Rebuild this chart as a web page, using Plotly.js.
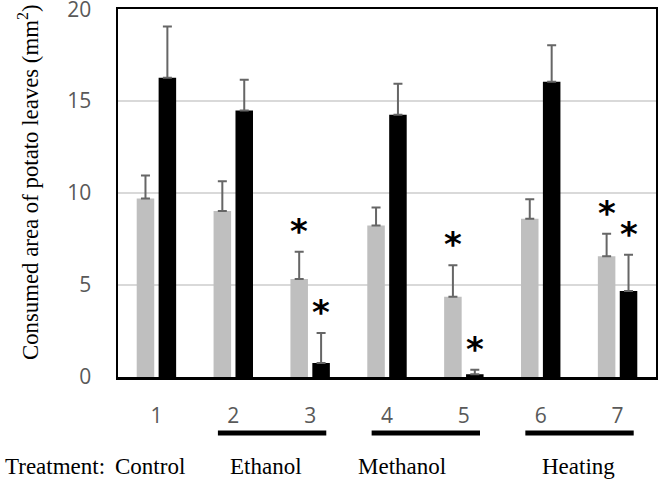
<!DOCTYPE html>
<html>
<head>
<meta charset="utf-8">
<script src="https://cdn.plot.ly/plotly-3.0.1.min.js"></script>
<style>html,body{margin:0;padding:0;background:#fff;}#chart{width:658px;height:479px;}</style>
</head>
<body>
<div id="chart"></div>
<script>
// ---- data ----
var categories = ['1', '2', '3', '4', '5', '6', '7'];
var grayValues = [9.70, 9.02, 5.33, 8.24, 4.37, 8.61, 6.56];
var grayErrors = [1.26, 1.62, 1.48, 0.97, 1.70, 1.06, 1.23];
var blackValues = [16.27, 14.49, 0.76, 14.26, 0.15, 16.05, 4.67];
var blackErrors = [2.79, 1.67, 1.63, 1.69, 0.25, 1.99, 1.98];
var graySignificant = [false, false, true, false, true, false, true];
var blackSignificant = [false, false, true, false, true, false, true];
var treatmentLabels = ['Control', 'Ethanol', 'Methanol', 'Heating'];
var treatmentFrom = [0, 1, 3, 5];   // first category index of each treatment
var treatmentTo = [0, 2, 4, 6];     // last category index of each treatment
var treatmentLabelPos = [-0.08, 1.43, 3.19, 5.49];
var yTickValues = [0, 5, 10, 15, 20];
var yTitle = 'Consumed area of potato leaves (mm<sup>2</sup>)';

// ---- traces ----
var errStyle = {type: 'data', symmetric: false, color: '#666666', thickness: 2, width: 4.5};
var traces = [
  {type: 'bar', x: categories, y: grayValues, name: 'gray',
   marker: {color: '#bfbfbf'},
   error_y: Object.assign({array: grayErrors, arrayminus: grayValues.map(function(){return 0;})}, errStyle)},
  {type: 'bar', x: categories, y: blackValues, name: 'black',
   marker: {color: '#000000'},
   error_y: Object.assign({array: blackErrors, arrayminus: blackValues.map(function(){return 0;})}, errStyle)}
];

// ---- annotations ----
var annotations = [];
var barShift = 11;
function addStars(values, errors, flags, shift) {
  for (var i = 0; i < categories.length; i++) {
    if (!flags[i]) continue;
    annotations.push({x: i, y: values[i] + errors[i], xref: 'x', yref: 'y',
      text: '*', showarrow: false, xshift: shift, yshift: 21, yanchor: 'middle',
      font: {family: 'DejaVu Sans', size: 34, weight: 'bold', color: '#000'}});
  }
}
addStars(grayValues, grayErrors, graySignificant, -barShift);
addStars(blackValues, blackErrors, blackSignificant, barShift);

var serif = 'Liberation Serif, Times New Roman, serif';
annotations.push({x: -0.166, y: 0.529, xref: 'paper', yref: 'paper', xanchor: 'center', yanchor: 'middle',
  textangle: -90, text: yTitle, showarrow: false, font: {family: serif, size: 22.8, color: '#000'}});
annotations.push({x: -0.214, y: -0.242, xref: 'paper', yref: 'paper', xanchor: 'left', yanchor: 'middle',
  text: 'Treatment:', showarrow: false, font: {family: serif, size: 23, color: '#000'}});
for (var k = 0; k < treatmentLabels.length; k++) {
  annotations.push({x: treatmentLabelPos[k], y: -0.242, xref: 'x', yref: 'paper', xanchor: 'center', yanchor: 'middle',
    text: treatmentLabels[k], showarrow: false, font: {family: serif, size: 23, color: '#000'}});
}

var shapes = [];
for (var j = 0; j < treatmentLabels.length; j++) {
  if (treatmentFrom[j] === treatmentTo[j]) continue;
  shapes.push({type: 'line', xref: 'x', yref: 'paper',
    x0: treatmentFrom[j] - 0.2, x1: treatmentTo[j] + 0.21, y0: -0.152, y1: -0.152,
    line: {color: '#000', width: 5}});
}

var layout = {
  width: 658, height: 479,
  margin: {l: 118, r: 2, t: 9, b: 102},
  paper_bgcolor: '#fff', plot_bgcolor: '#fff',
  showlegend: false,
  barmode: 'group', bargap: 0.43, bargroupgap: 0.2,
  xaxis: {type: 'category', range: [-0.5, categories.length - 0.5], autorange: false,
    showline: true, mirror: true, linecolor: '#000', linewidth: 2.5,
    showgrid: false, ticks: '', ticklabelstandoff: 18,
    tickfont: {family: 'Open Sans', size: 21, color: '#595959'}},
  yaxis: {range: [0, 20.01], autorange: false, tickmode: 'array', tickvals: yTickValues,
    ticklabeloverflow: 'allow',
    showline: true, mirror: true, linecolor: '#000', linewidth: 2.5,
    showgrid: true, gridcolor: '#d9d9d9', gridwidth: 1.5, zeroline: false, ticks: '', ticklabelstandoff: 20,
    tickfont: {family: 'Open Sans', size: 21, color: '#595959'}},
  annotations: annotations,
  shapes: shapes
};

Plotly.newPlot('chart', traces, layout, {displayModeBar: false, staticPlot: true});
</script>
</body>
</html>
